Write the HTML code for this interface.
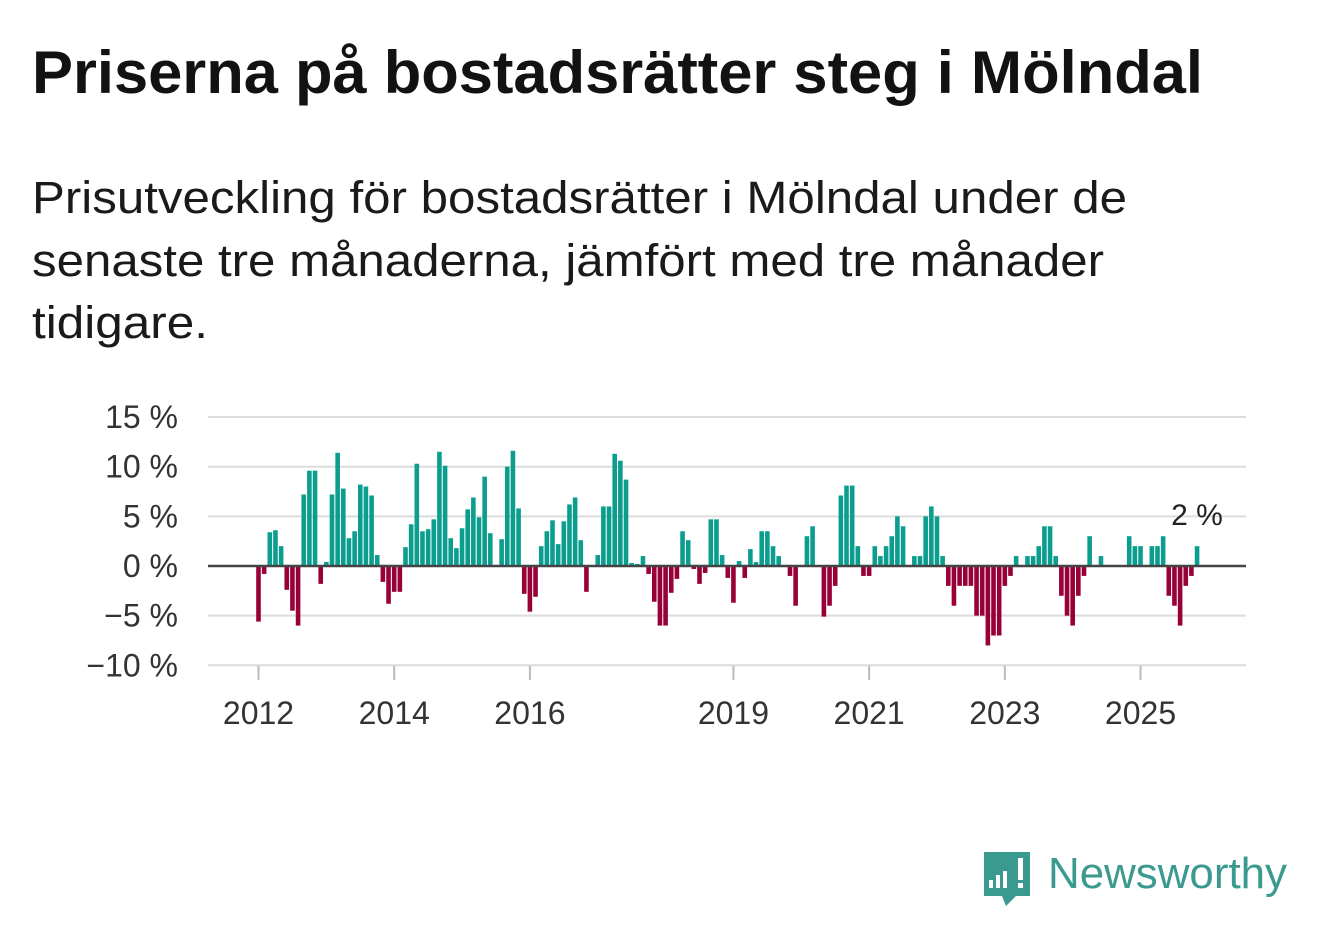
<!DOCTYPE html>
<html><head><meta charset="utf-8"><style>
html,body{margin:0;padding:0;background:#fff;}
svg{display:block;font-family:"Liberation Sans",sans-serif;}
</style></head><body>
<svg id="chart" width="1322" height="939" viewBox="0 0 1322 939">
<rect width="1322" height="939" fill="#fff"/>
<text x="32" y="93" font-size="60" font-weight="bold" fill="#121212" textLength="1171" lengthAdjust="spacingAndGlyphs">Priserna på bostadsrätter steg i Mölndal</text>
<g font-size="45" fill="#1a1a1a">
<text x="32" y="213" textLength="1095" lengthAdjust="spacingAndGlyphs">Prisutveckling för bostadsrätter i Mölndal under de</text>
<text x="32" y="276" textLength="1072" lengthAdjust="spacingAndGlyphs">senaste tre månaderna, jämfört med tre månader</text>
<text x="32" y="338" textLength="176" lengthAdjust="spacingAndGlyphs">tidigare.</text>
</g>
<g id="grid"></g>
<g id="yaxis"></g>
<g id="bars"></g>
<g id="xaxis"></g>
<text x="1197" y="525" font-size="30" fill="#222" text-anchor="middle">2 %</text>
<g>
<path d="M984 852 h46 v44 h-14 l-10 10 l-4 -10 h-18 z" fill="#3a9a8f"/>
<rect x="989" y="880" width="4" height="8" fill="#fff"/>
<rect x="996" y="875" width="4" height="13" fill="#fff"/>
<rect x="1003" y="871" width="4" height="17" fill="#fff"/>
<rect x="1018" y="858" width="5" height="22" fill="#fff"/>
<rect x="1018" y="883" width="5" height="5" fill="#fff"/>
<text x="1048" y="888" font-size="44" fill="#3a9a8f" textLength="239" lengthAdjust="spacingAndGlyphs">Newsworthy</text>
</g>
</svg>
<script>
const values = [-5.6,-0.8,3.4,3.6,2.0,-2.4,-4.5,-6.0,7.2,9.6,9.6,-1.8,
0.4,7.2,11.4,7.8,2.8,3.5,8.2,8.0,7.1,1.1,-1.6,-3.8,
-2.6,-2.6,1.9,4.2,10.3,3.5,3.7,4.7,11.5,10.1,2.8,1.8,
3.8,5.7,6.9,4.9,9.0,3.3,0,2.7,10.0,11.6,5.8,-2.8,
-4.6,-3.1,2.0,3.5,4.6,2.2,4.5,6.2,6.9,2.6,-2.6,0,
1.1,6.0,6.0,11.3,10.6,8.7,0.3,0.2,1.0,-0.8,-3.6,-6.0,
-6.0,-2.7,-1.3,3.5,2.6,-0.3,-1.8,-0.7,4.7,4.7,1.1,-1.2,
-3.7,0.5,-1.2,1.7,0.4,3.5,3.5,2.0,1.0,0,-1.0,-4.0,
0,3.0,4.0,0,-5.1,-4.0,-2.0,7.1,8.1,8.1,2.0,-1.0,
-1.0,2.0,1.0,2.0,3.0,5.0,4.0,0,1.0,1.0,5.0,6.0,
5.0,1.0,-2.0,-4.0,-2.0,-2.0,-2.0,-5.0,-5.0,-8.0,-7.0,-7.0,
-2.0,-1.0,1.0,0,1.0,1.0,2.0,4.0,4.0,1.0,-3.0,-5.0,
-6.0,-3.0,-1.0,3.0,0,1.0,0,0,0,0,3.0,2.0,
2.0,0,2.0,2.0,3.0,-3.0,-4.0,-6.0,-2.0,-1.0,2.0];
const startYear = 2012;
const yTicks = [15,10,5,0,-5,-10];
const yTickLabels = ["15 %","10 %","5 %","0 %","\u22125 %","\u221210 %"];
const xTickYears = [2012,2014,2016,2019,2021,2023,2025];

const NS="http://www.w3.org/2000/svg";
const y0=566, pxPerPct=9.93, x0=258.5, step=5.654;
const yS=v=>y0-v*pxPerPct;
const xS=i=>x0+i*step;
function mk(tag,attrs,parent){const e=document.createElementNS(NS,tag);for(const k in attrs)e.setAttribute(k,attrs[k]);parent.appendChild(e);return e;}
const grid=document.getElementById('grid'),yax=document.getElementById('yaxis'),bars=document.getElementById('bars'),xax=document.getElementById('xaxis');
yTicks.forEach((t,k)=>{
  if(t!==0){const l=mk('line',{x1:208,x2:1246,y1:yS(t),y2:yS(t),stroke:'#dcdcdc','stroke-width':2},grid);
  
  }
  const tx=mk('text',{x:178,y:yS(t)+11,'font-size':32,fill:'#333','text-anchor':'end'},yax);
  tx.textContent=yTickLabels[k];
  
  
});
values.forEach((v,i)=>{
  const w=4.6,x=xS(i)-w/2;
  const r=mk('rect',{x:x,y:Math.min(yS(v),y0),width:w,height:Math.abs(yS(v)-y0),fill:v>=0?'#0b9e8f':'#980038'},bars);
  
  
});
const zl=mk('line',{x1:208,x2:1246,y1:y0,y2:y0,stroke:'#444','stroke-width':2.5},bars);


xTickYears.forEach(yr=>{
  const x=xS((yr-startYear)*12);
  const tk=mk('line',{x1:x,x2:x,y1:666,y2:680,stroke:'#bbb','stroke-width':2},xax);
  
  
  const tx=mk('text',{x:x,y:724,'font-size':32,fill:'#333','text-anchor':'middle'},xax);
  tx.textContent=String(yr);
  
  
});
</script>
</body></html>
